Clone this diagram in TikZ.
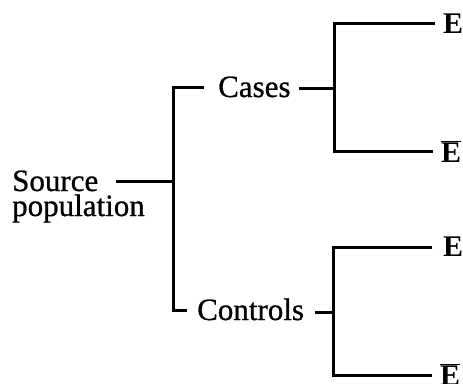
\documentclass[tikz,border=0pt]{standalone}
\usepackage{fontspec}
\setmainfont{Liberation Serif}
% slightly heavier serif for the labels
\newfontfamily\labelfont{Liberation Serif}[FakeBold=0.8]
\begin{document}
\begin{tikzpicture}[x=1pt,y=-1pt,
  branch/.style={line width=3pt},
  lbl/.style={inner sep=0pt,anchor=base west,font=\labelfont\fontsize{31}{25}\selectfont},
  expo/.style={inner sep=0pt,anchor=base west,font=\fontsize{30}{30}\selectfont\bfseries}]
\useasboundingbox (0,0) rectangle (463,383);
% labels (the base of a two-line node is the baseline of its last line)
\node[lbl,align=left] (src) at (12,216) {Source\\population};
\node[lbl] (cases) at (218,97) {Cases};
\node[lbl] (ctrl) at (197,320) {Controls};
\node[expo] (e1) at (443,33) {E};
\node[expo] (e2) at (441,162) {$\overline{\hbox{E}}$};
\node[expo] (e3) at (443,256) {E};
\node[expo] (e4) at (440,385) {$\overline{\hbox{E}}$};
% junction points
\coordinate (srcR) at (116,181);
\coordinate (root) at (173,181);
\coordinate (casesIn) at (204,87);
\coordinate (ctrlIn) at (187,310);
\coordinate (casesOut) at (299,88);
\coordinate (caseJ) at (334,88);
\coordinate (ctrlOut) at (315,312);
\coordinate (ctrlJ) at (333,312);
\coordinate (e1In) at (435,23);
\coordinate (e2In) at (433,151);
\coordinate (e3In) at (432,247);
\coordinate (e4In) at (432,375);
% first split: source population into cases and controls
\draw[branch] (srcR) -- (root);
\draw[branch] (casesIn) -| (root) |- (ctrlIn);
% second split: exposed and unexposed
\draw[branch] (casesOut) -- (caseJ);
\draw[branch] (e1In) -| (caseJ) |- (e2In);
\draw[branch] (ctrlOut) -- (ctrlJ);
\draw[branch] (e3In) -| (ctrlJ) |- (e4In);
\end{tikzpicture}
\end{document}
